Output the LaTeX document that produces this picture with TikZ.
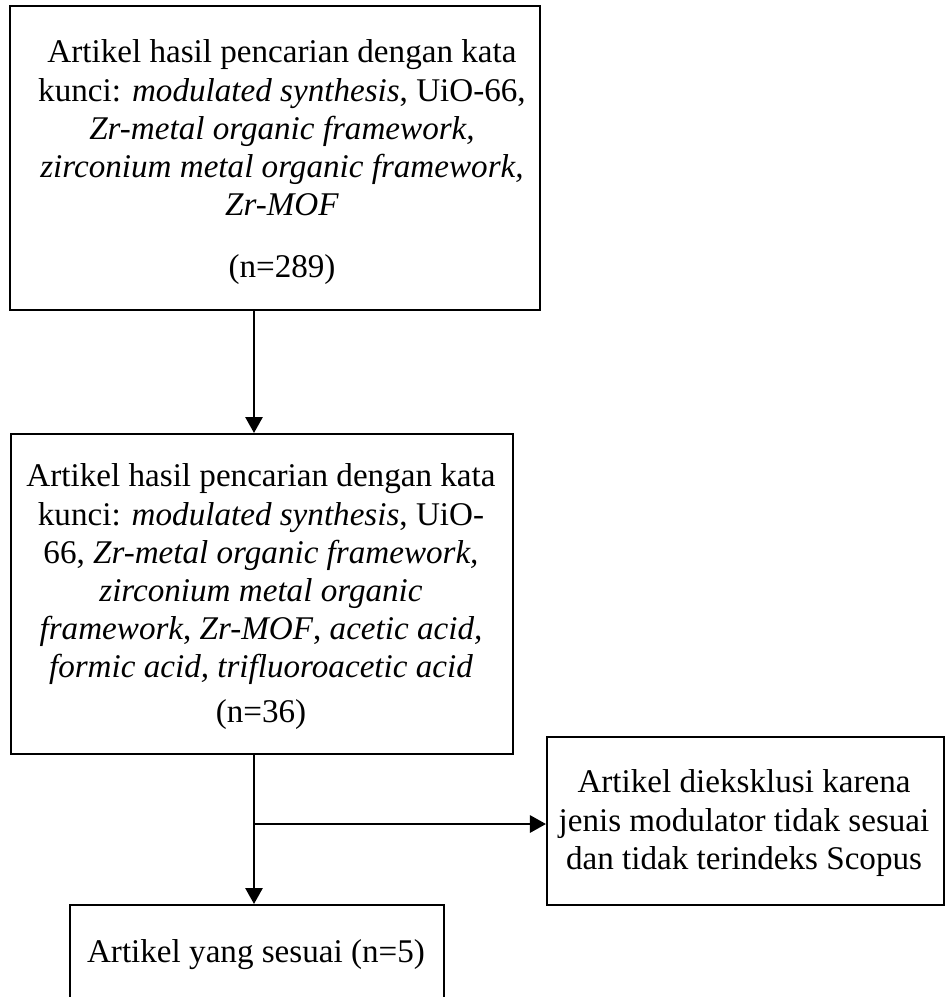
\documentclass[tikz,border=0pt]{standalone}
\usepackage{fontspec}
\setmainfont{Liberation Serif}
\usetikzlibrary{arrows.meta}
\begin{document}
\begin{tikzpicture}[x=0.3623pt,y=-0.3623pt,
  box/.style={draw=black, line width=0.75pt, rectangle, inner sep=0pt, anchor=north west},
  txt/.style={align=center, inner sep=0pt, font=\fontsize{12}{13.8}\selectfont},
  arr/.style={line width=0.9pt, -{Triangle[length=5.8pt,width=6.2pt]}}]
\useasboundingbox (0,0) rectangle (945,997);
\fill[white] (0,0) rectangle (945,997);
% boxes
\node[box, minimum width=530*0.3623pt, minimum height=304*0.3623pt] (b1) at (9,5) {};
\node[box, minimum width=502*0.3623pt, minimum height=320*0.3623pt] (b2) at (10,433) {};
\node[box, minimum width=397*0.3623pt, minimum height=168*0.3623pt] (b3) at (546,736) {};
\node[box, minimum width=374*0.3623pt, minimum height=130*0.3623pt] (b4) at (69,904) {};
% texts
\node[txt, anchor=north] (t1) at (282,39.4) {Artikel hasil pencarian dengan kata\\
kunci: \textit{modulated synthesis}, UiO-66,\\
\textit{Zr-metal organic framework,}\\
\textit{zirconium metal organic framework,}\\
\textit{Zr-MOF}\\[8.7pt]
(n=289)};
\node[txt, anchor=north] (t2) at (261,463.4) {Artikel hasil pencarian dengan kata\\
kunci: \textit{modulated synthesis}, UiO-\\
66, \textit{Zr-metal organic framework,}\\
\textit{zirconium metal organic}\\
\textit{framework}, \textit{Zr-MOF}, \textit{acetic acid,}\\
\textit{formic acid, trifluoroacetic acid}\\[2.6pt]
(n=36)};
\node[txt, anchor=north] (t3) at (744,769.4) {Artikel dieksklusi karena\\
jenis modulator tidak sesuai\\
dan tidak terindeks Scopus};
\node[txt, anchor=base] (t4) at (256,962) {Artikel yang sesuai (n=5)};
% connectors
\coordinate (ax) at (254,0);
\coordinate (br) at (254,824);
\draw[arr] (b1.south -| ax) -- (b2.north -| ax);
\draw[arr] (b2.south -| ax) -- (b4.north -| ax);
\draw[arr] (br) -- (b3.west |- br);
\end{tikzpicture}
\end{document}
